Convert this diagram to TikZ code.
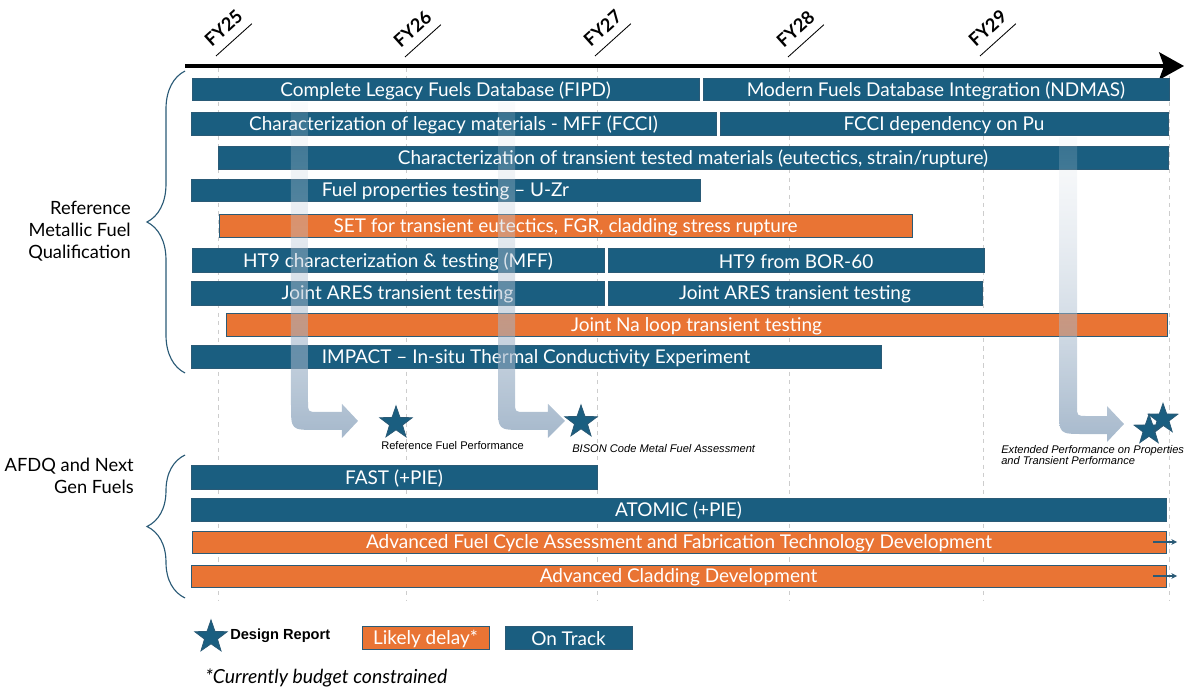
\documentclass[tikz,border=0pt]{standalone}
\usepackage{fontspec}
\setmainfont{Lato}
\newfontfamily\arialfont{Liberation Sans}
\usetikzlibrary{arrows.meta,shapes.geometric,fit,decorations.pathreplacing,fadings}
\definecolor{trackblue}{RGB}{26,94,128}
\definecolor{delayorange}{RGB}{233,116,52}
\definecolor{edgeblue}{RGB}{42,90,118}
\definecolor{gridgray}{RGB}{205,205,205}
\definecolor{flowblue}{RGB}{135,160,186}
\tikzfading[name=flowfade, top color=transparent!85, bottom color=transparent!25]

\begin{document}
\begin{tikzpicture}[x=0.025cm, y=-0.025cm,
  ontrack/.style={fill=trackblue, draw=edgeblue, line width=0.6pt, inner sep=0pt},
  delay/.style={ontrack, fill=delayorange},
  bartext/.style={text=white, inner sep=0pt, yshift=-1pt, font=\fontsize{13.5}{15}\selectfont},
  gridline/.style={gridgray, dashed, line width=0.6pt},
  fy/.style={rotate=42, anchor=south west, inner xsep=1.5pt, inner ysep=6pt, font=\bfseries\fontsize{13}{14}\selectfont},
  milestone/.style={star, star points=5, star point ratio=2.5, fill=trackblue, draw=edgeblue,
    line width=0.6pt, minimum size=0.85cm, inner sep=0pt},
  flow/.style={top color=white!70!flowblue, bottom color=flowblue, path fading=flowfade},
  bracket/.style={decorate, decoration={brace, amplitude=0.95cm}, edgeblue, line width=0.8pt},
  note/.style={anchor=west, inner sep=0pt, font=\arialfont\fontsize{7.9}{7}\selectfont, align=left},
  group/.style={anchor=east, align=right, inner sep=0pt, font=\fontsize{13}{15.5}\selectfont}]
  \useasboundingbox (0,0) rectangle (1185,688);

  % year grid
  \draw[gridline] (218,68) -- (218,600);
  \draw[gridline] (406,68) -- (406,600);
  \draw[gridline] (597,68) -- (597,600);
  \draw[gridline] (789,68) -- (789,600);
  \draw[gridline] (983,68) -- (983,600);
  \draw[gridline] (1169,68) -- (1169,600);

  % time axis
  \coordinate (tstart) at (185,66);
  \coordinate (tend) at (1184,66);
  \draw[line width=2.8pt, -{Stealth[length=0.62cm, width=0.68cm, inset=0.12cm]}] (tstart) -- (tend);
  \node[fy] (fy25) at (216,56) {FY25};
  \node[fy] (fy26) at (405,57) {FY26};
  \node[fy] (fy27) at (595,56) {FY27};
  \node[fy] (fy28) at (788,57) {FY28};
  \node[fy] (fy29) at (980,56) {FY29};
  \draw[line width=0.6pt] (fy25.south west) -- (fy25.south east);
  \draw[line width=0.6pt] (fy26.south west) -- (fy26.south east);
  \draw[line width=0.6pt] (fy27.south west) -- (fy27.south east);
  \draw[line width=0.6pt] (fy28.south west) -- (fy28.south east);
  \draw[line width=0.6pt] (fy29.south west) -- (fy29.south east);

  % reference metallic fuel qualification
  \node[ontrack, fit={(192,78) (699,100)}, label={[bartext]center:Complete Legacy Fuels Database (FIPD)}] (fipd) {};
  \node[ontrack, fit={(703,78) (1169,100)}, label={[bartext]center:Modern Fuels Database Integration (NDMAS)}] (ndmas) {};
  \node[ontrack, fit={(191,112) (716,135)}, label={[bartext]center:Characterization of legacy materials - MFF (FCCI)}] (legacy) {};
  \node[ontrack, fit={(720,112) (1168,135)}, label={[bartext]center:FCCI dependency on Pu}] (fcci) {};
  \node[ontrack, fit={(218,146) (1168,169)}, label={[bartext]center:{Characterization of transient tested materials (eutectics, strain/rupture)}}] (transient) {};
  \node[ontrack, fit={(191,179) (700,201)}, label={[bartext]center:Fuel properties testing -- U-Zr}] (uzr) {};
  \node[delay, fit={(219,214) (912,237)}, label={[bartext]center:{SET for transient eutectics, FGR, cladding stress rupture}}] (set) {};
  \node[ontrack, fit={(192,248) (604,272)}, label={[bartext]center:HT9 characterization \& testing (MFF)}] (htchar) {};
  \node[ontrack, fit={(608,248) (984,272)}, label={[bartext]center:HT9 from BOR-60}] (htbor) {};
  \node[ontrack, fit={(191,281) (604,305)}, label={[bartext]center:Joint ARES transient testing}] (aresa) {};
  \node[ontrack, fit={(608,281) (982,305)}, label={[bartext]center:Joint ARES transient testing}] (aresb) {};
  \node[delay, fit={(226,313) (1167,336)}, label={[bartext]center:Joint Na loop transient testing}] (naloop) {};
  \node[ontrack, fit={(191,345) (881,368)}, label={[bartext]center:IMPACT -- In-situ Thermal Conductivity Experiment}] (impact) {};

  % AFDQ and next gen fuels
  \node[ontrack, fit={(191,465) (597,489)}, label={[bartext]center:FAST (+PIE)}] (fast) {};
  \node[ontrack, fit={(191,498) (1166,521)}, label={[bartext]center:ATOMIC (+PIE)}] (atomic) {};
  \node[delay, fit={(192,531) (1166,553)}, label={[bartext]center:Advanced Fuel Cycle Assessment and Fabrication Technology Development}] (afc) {};
  \node[delay, fit={(191,565) (1166,587)}, label={[bartext]center:Advanced Cladding Development}] (clad) {};
  \coordinate (afcend) at (1177,542);
  \coordinate (cladend) at (1177,576);
  \draw[edgeblue, line width=0.8pt, -{Stealth[length=4pt, width=4pt]}] ([xshift=-0.33cm]afc.east) -- (afcend);
  \draw[edgeblue, line width=0.8pt, -{Stealth[length=4pt, width=4pt]}] ([xshift=-0.33cm]clad.east) -- (cladend);

  % flows to design reports
  \shade[flow] (291,102) -- (291,405) .. controls (291,430) .. (316,430) -- (342,430) -- (342,438)
    -- (358,421) -- (342,404) -- (342,412) -- (318,412) .. controls (308,412) .. (308,402) -- (308,102) -- cycle;
  \shade[flow] (498,102) -- (498,405) .. controls (498,430) .. (523,430) -- (548,430) -- (548,438)
    -- (565,421) -- (548,404) -- (548,412) -- (525,412) .. controls (515,412) .. (515,402) -- (515,102) -- cycle;
  \shade[flow] (1059,137) -- (1059,409) .. controls (1059,434) .. (1084,434) -- (1107,434) -- (1107,442)
    -- (1124,424) -- (1107,406) -- (1107,416) -- (1087,416) .. controls (1077,416) .. (1077,406) -- (1077,137) -- cycle;

  \node[milestone] (refstar) at (396,423) {};
  \node[milestone] (bisonstar) at (581,422) {};
  \node[milestone, minimum size=0.78cm] (extstara) at (1149,430) {};
  \node[milestone, minimum size=0.78cm] (extstarb) at (1163,419) {};
  \node[note] (reflabel) at (381,446) {Reference Fuel Performance};
  \node[note, font=\arialfont\itshape\fontsize{7.9}{7}\selectfont] (bisonlabel) at (572,449) {BISON Code Metal Fuel Assessment};
  \node[note, font=\arialfont\itshape\fontsize{7.9}{6.4}\selectfont] (extlabel) at (1001,455) {Extended Performance on Properties\\and Transient Performance};

  % groups
  \coordinate (rtop) at (185,71);
  \coordinate (rbot) at (185,373);
  \coordinate (atop) at (185,455);
  \coordinate (abot) at (185,598);
  \draw[bracket] (rbot) -- (rtop);
  \draw[bracket] (abot) -- (atop);
  \node[group] (reflab) at (131,231) {Reference\\Metallic Fuel\\Qualification};
  \node[group] (afdqlab) at (134,476) {AFDQ and Next\\Gen Fuels};

  % legend
  \node[milestone] (keystar) at (211,637) {};
  \node[anchor=west, inner sep=0pt, font=\arialfont\bfseries\fontsize{10.4}{11}\selectfont] (keytext) at (230,636) {Design Report};
  \node[delay, fit={(362,626) (489,649)}, label={[bartext]center:Likely delay*}] (delaykey) {};
  \node[ontrack, fit={(505,626) (632,649)}, label={[bartext]center:On Track}] (trackkey) {};
  \node[anchor=west, inner sep=0pt, font=\itshape\fontsize{13.8}{15}\selectfont] (budget) at (205,678) {*Currently budget constrained};
\end{tikzpicture}
\end{document}
